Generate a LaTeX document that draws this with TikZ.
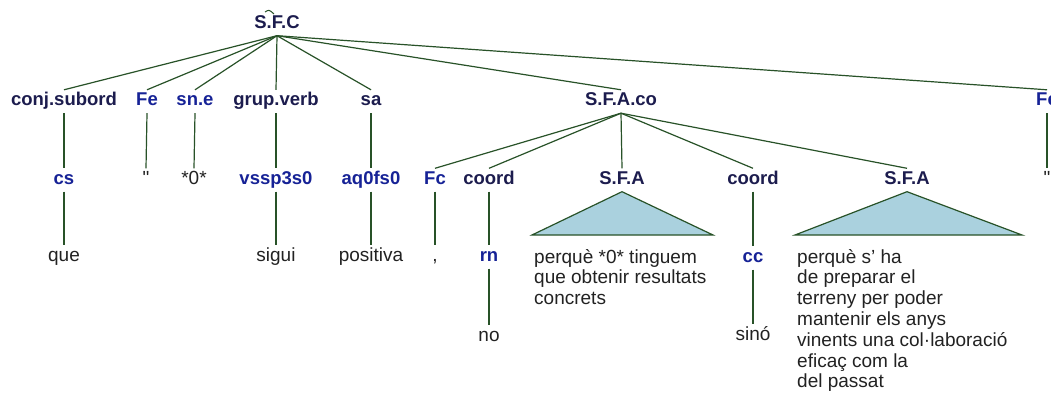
\documentclass[tikz,border=0pt]{standalone}
\usepackage{fontspec}
\setmainfont{Liberation Sans}
\newfontfamily\rawfont{Liberation Sans}[Ligatures=ResetAll]
\definecolor{lineg}{RGB}{40,82,40}
\definecolor{navy}{RGB}{28,28,78}
\definecolor{posblue}{RGB}{22,34,150}
\definecolor{leafc}{RGB}{34,34,34}
\definecolor{trifill}{RGB}{170,209,222}
\begin{document}
\begin{tikzpicture}[x=1pt,y=-1pt,
  edgeline/.style={draw=lineg, line width=1.2pt},
  baselab/.style={inner xsep=1pt, inner ysep=4pt, text height=12pt, text depth=3pt, font=\fontsize{18.5}{21}\selectfont\bfseries},
  catlab/.style={baselab, text=navy},
  poslab/.style={baselab, text=posblue},
  leaflab/.style={inner xsep=1pt, inner ysep=4pt, text height=12pt, text depth=3pt, font=\fontsize{19}{21}\selectfont, text=leafc},
  trishape/.style={draw=lineg, line width=1.2pt, fill=trifill, line join=miter},
  txtblock/.style={font=\fontsize{19}{20.8}\selectfont, text=leafc, align=left, inner sep=0pt, anchor=north west}
]
\clip (0,0) rectangle (1051,398);
\fill[white] (0,0) rectangle (1051,398);

% root
\node[catlab] (sfc) at (277,24) {S.F.C};
\draw[lineg, line width=1pt] (265,12) .. controls (269,9.5) .. (274,14);

% level 1
\node[catlab] (conj)  at (64,101.5)  {conj.subord};
\node[poslab] (fe1)   at (147,101.5) {Fe};
\node[poslab] (sne)   at (195,101.5) {sn.e};
\node[catlab] (gv)    at (276,101.5) {grup.verb};
\node[catlab] (sa)    at (371,101.5) {sa};
\node[catlab] (sfaco) at (621,101.5) {S.F.A.co};
\node[poslab] (fe2)   at (1047,101.5) {Fe};

% level 2
\node[poslab]  (cs)     at (64,180)  {cs};
\node[leaflab] (q1)     at (146,180) {\rawfont"};
\node[leaflab] (zero)   at (194,180) {*0*};
\node[poslab]  (vssp)   at (276,180) {vssp3s0};
\node[poslab]  (aq)     at (371,180) {aq0fs0};
\node[poslab]  (fc)     at (435,180) {Fc};
\node[catlab]  (coord1) at (489,180) {coord};
\node[catlab]  (sfa1)   at (622,180) {S.F.A};
\node[catlab]  (coord2) at (753,180) {coord};
\node[catlab]  (sfa2)   at (907,180) {S.F.A};
\node[leaflab] (q2)     at (1047,180) {\rawfont"};

% level 3
\node[leaflab] (que)      at (64,257)  {que};
\node[leaflab] (sigui)    at (276,257) {sigui};
\node[leaflab] (positiva) at (371,257) {positiva};
\node[leaflab] (comma)    at (435,257) {,};
\node[poslab]  (rn)       at (489,257) {rn};
\node[poslab]  (cc)       at (753,258) {cc};

% level 4
\node[leaflab] (no)   at (489,337) {no};
\node[leaflab] (sino) at (753,336) {sinó};

% triangles
\draw[trishape] (sfa1.south) -- (532,235) -- (713,235) -- cycle;
\draw[trishape] (sfa2.south) -- (795,235) -- (1022,235) -- cycle;

\node[txtblock] (txt1) at (534,249) {perquè *0* tinguem\\que obtenir resultats\\concrets};
\node[txtblock] (txt2) at (797,249) {perquè s’ ha\\de preparar el\\terreny per poder\\mantenir els anys\\vinents una col·laboració\\eficaç com la\\del passat};

% edges
\foreach \c in {conj,fe1,sne,gv,sa,sfaco,fe2}
  \draw[edgeline] (sfc.south) -- (\c.north);
\foreach \p/\c in {conj/cs,fe1/q1,sne/zero,gv/vssp,sa/aq,fe2/q2,cs/que,vssp/sigui,aq/positiva,fc/comma,coord1/rn,rn/no,coord2/cc,cc/sino}
  \draw[edgeline] (\p.south) -- (\c.north);
\foreach \c in {fc,coord1,sfa1,coord2,sfa2}
  \draw[edgeline] (sfaco.south) -- (\c.north);
\end{tikzpicture}
\end{document}
